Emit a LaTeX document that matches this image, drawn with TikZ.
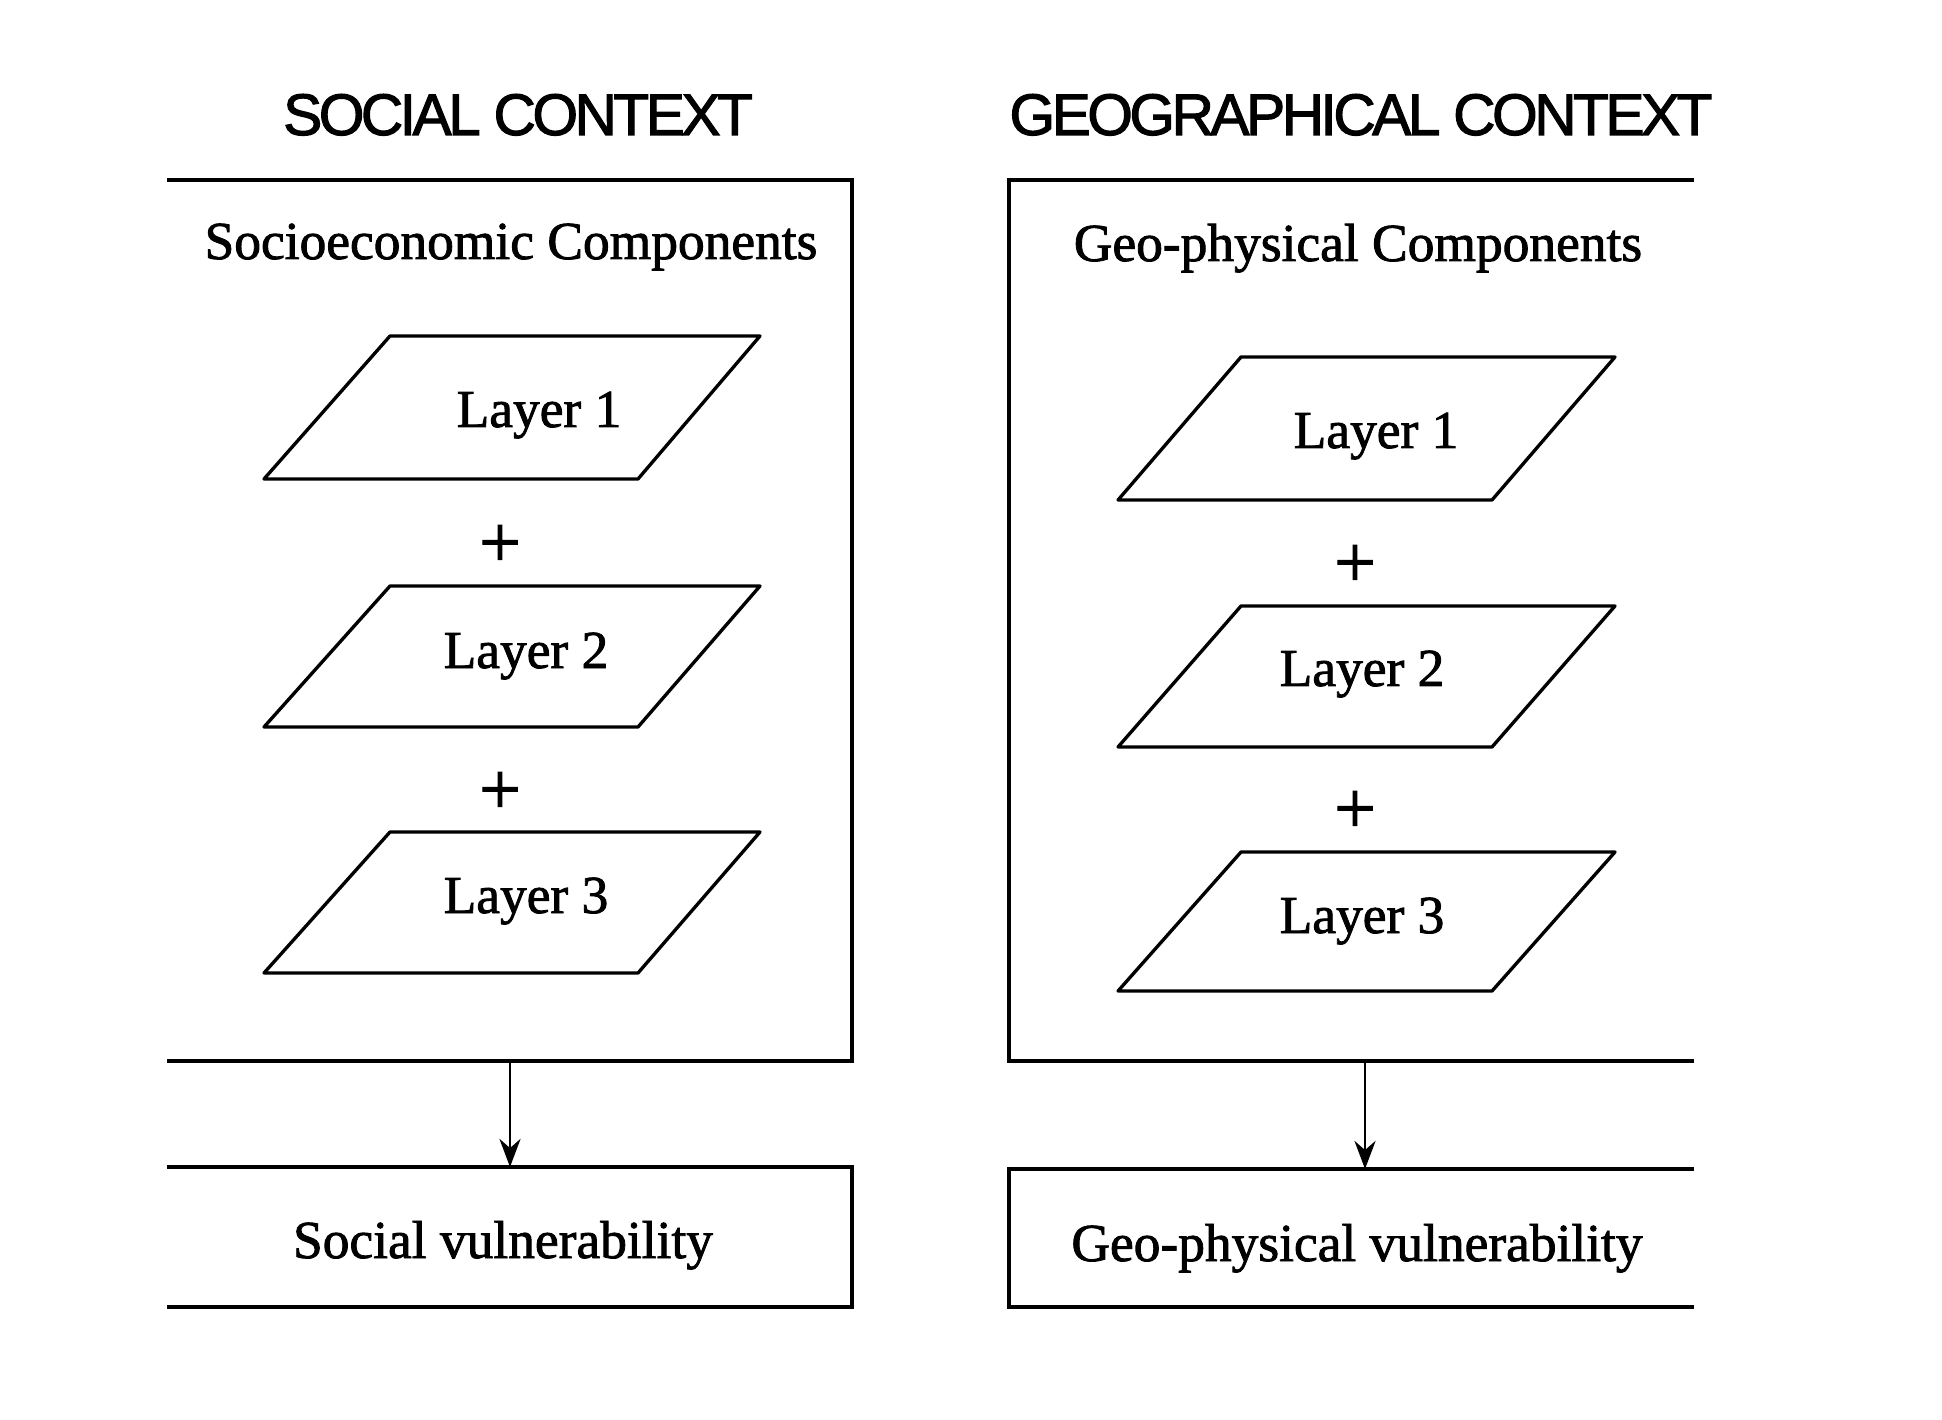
\documentclass[tikz,border=0pt]{standalone}
\usepackage{fontspec}
\setmainfont{Liberation Serif}[BoldFont=Liberation Serif, BoldFeatures={FakeBold=1.6}]
\newfontfamily\titlefont{Liberation Sans}[BoldFont=Liberation Sans, BoldFeatures={FakeBold=1.8}, LetterSpace=-6]
\usetikzlibrary{arrows.meta}
\begin{document}
\begin{tikzpicture}[x=0.1mm,y=-0.1mm,
  frame/.style={line width=1.1pt, line join=miter},
  layerbox/.style={line width=0.95pt, line join=round},
  ttl/.style={font=\titlefont\bfseries\fontsize{16.7}{19}\selectfont, anchor=base, inner sep=0},
  txt/.style={font=\bfseries\fontsize{15.2}{18}\selectfont, anchor=base, inner sep=0},
  plussign/.style={font=\bfseries\fontsize{21}{22}\selectfont, inner sep=0},
  conn/.style={line width=0.8pt, -{Stealth[length=8pt,width=6pt]}}]
\useasboundingbox (0,0) rectangle (1942,1420);

% titles
\node[ttl] (t1) at (518,135) {SOCIAL CONTEXT};
\node[ttl] (t2) at (1361,135) {GEOGRAPHICAL CONTEXT};

% frames
\draw[frame] (167,180) -- (852,180) -- (852,1061) -- (167,1061);
\draw[frame] (167,1167) -- (852,1167) -- (852,1307) -- (167,1307);
\draw[frame] (1694,180) -- (1009,180) -- (1009,1061) -- (1694,1061);
\draw[frame] (1694,1169) -- (1009,1169) -- (1009,1307) -- (1694,1307);

% headings
\node[txt] (h1) at (511,259) {Socioeconomic Components};
\node[txt] (h2) at (1358,261) {Geo-physical Components};

% left layers
\foreach \t/\b in {336/479, 586/727, 832/973}{
  \draw[layerbox] (390,\t) -- (760,\t) -- (638,\b) -- (264,\b) -- cycle;
}
\node[txt] (sl1) at (539,427) {Layer 1};
\node[txt] (sl2) at (526,668) {Layer 2};
\node[txt] (sl3) at (526,913) {Layer 3};
\node[plussign] (sp1) at (500,546) {+};
\node[plussign] (sp2) at (500,793) {+};

% right layers
\foreach \t/\b in {357/500, 606/747, 852/991}{
  \draw[layerbox] (1241,\t) -- (1615,\t) -- (1492,\b) -- (1118,\b) -- cycle;
}
\node[txt] (gl1) at (1376,448) {Layer 1};
\node[txt] (gl2) at (1362,686) {Layer 2};
\node[txt] (gl3) at (1362,933) {Layer 3};
\node[plussign] (gp1) at (1355,566) {+};
\node[plussign] (gp2) at (1355,812) {+};

% bottom texts
\node[txt] (sv) at (503,1258) {Social vulnerability};
\node[txt] (gv) at (1357,1261) {Geo-physical vulnerability};

% connectors
\coordinate (sa) at (510,1061);
\coordinate (sb) at (510,1167);
\coordinate (ga) at (1365,1061);
\coordinate (gb) at (1365,1169);
\draw[conn] (sa) -- (sb);
\draw[conn] (ga) -- (gb);
\end{tikzpicture}
\end{document}
